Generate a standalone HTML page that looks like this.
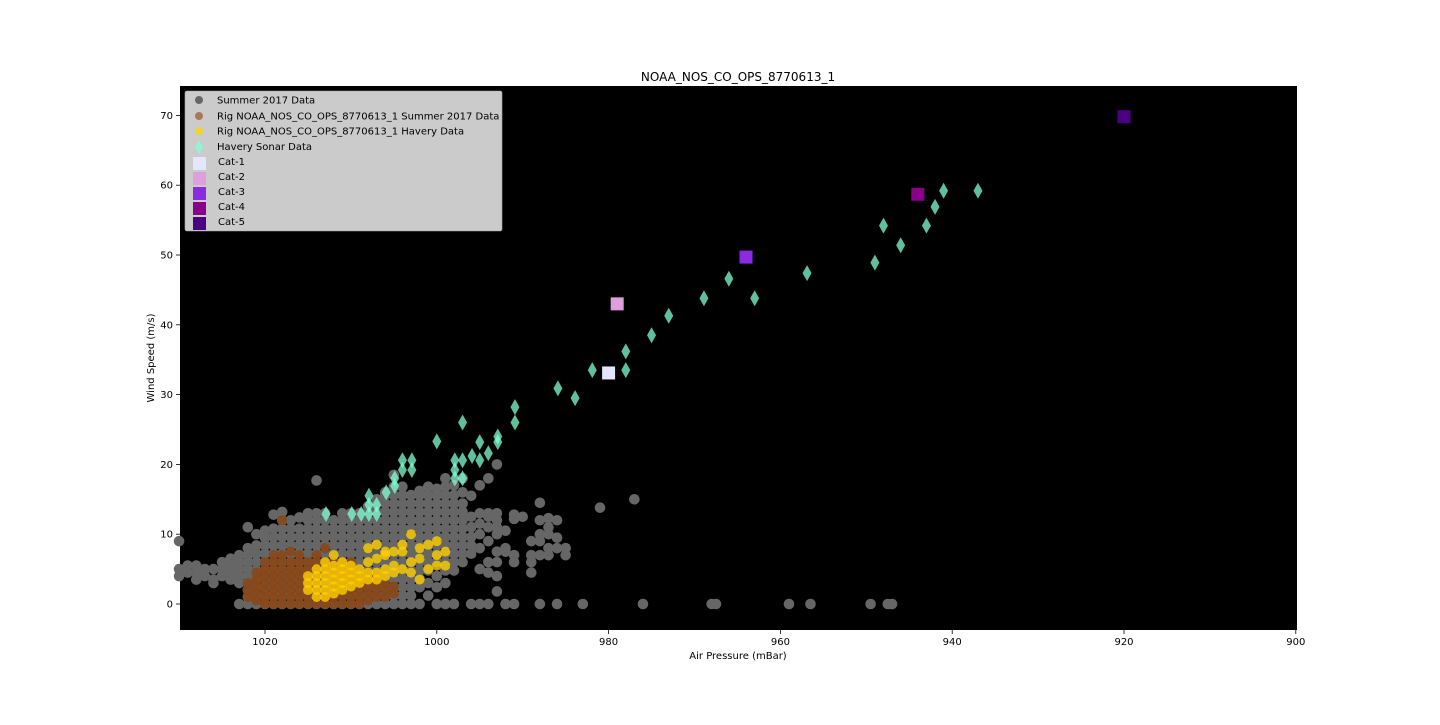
<!DOCTYPE html>
<html><head><meta charset="utf-8"><style>
body{margin:0;background:#fff;}
svg text{font-family:"DejaVu Sans","Liberation Sans",sans-serif;}
</style></head><body>
<svg id="chart" width="1440" height="720" xmlns="http://www.w3.org/2000/svg">
<rect x="0" y="0" width="1440" height="720" fill="#fff"/>
<text x="738" y="81" font-size="12" text-anchor="middle">NOAA_NOS_CO_OPS_8770613_1</text>
<rect x="180" y="86" width="1117" height="544" fill="#000"/>
<g id="marks"></g>
<g id="axes"></g>
<text x="738" y="659" font-size="10" text-anchor="middle">Air Pressure (mBar)</text>
<text transform="translate(154,358) rotate(-90)" font-size="10" text-anchor="middle">Wind Speed (m/s)</text>
<g>
<rect x="185" y="91" width="317" height="140" rx="2" fill="#cbcbcb" stroke="#aaa" stroke-width="0.6"/>
<circle cx="199" cy="100" r="4" fill="#666"/><text x="217" y="103.5" font-size="10">Summer 2017 Data</text>
<circle cx="199" cy="116" r="4" fill="#a5795a"/><text x="217" y="119.5" font-size="10">Rig NOAA_NOS_CO_OPS_8770613_1 Summer 2017 Data</text>
<circle cx="199" cy="131" r="4" fill="#f2d22e"/><text x="217" y="134.5" font-size="10">Rig NOAA_NOS_CO_OPS_8770613_1 Havery Data</text>
<polygon points="199,140 203,147 199,154 195,147" fill="#7fffd4" opacity="0.8"/><text x="217" y="150" font-size="10">Havery Sonar Data</text>
<rect x="193" y="157" width="13" height="13" fill="#e6e6fa"/><text x="218" y="165" font-size="10">Cat-1</text>
<rect x="193" y="172" width="13" height="13" fill="#dda0dd"/><text x="218" y="180" font-size="10">Cat-2</text>
<rect x="193" y="187" width="13" height="13" fill="#8a2be2"/><text x="218" y="195" font-size="10">Cat-3</text>
<rect x="193" y="202" width="13" height="13" fill="#8b008b"/><text x="218" y="210" font-size="10">Cat-4</text>
<rect x="193" y="217" width="13" height="13" fill="#4b0082"/><text x="218" y="225" font-size="10">Cat-5</text>
</g>
</svg>
<script>
const grayCols = [
[1030,4,5,9],[1029,4.5,5.5],[1028,3.5,4.5,5.5],[1027,4,5],[1026,3,3.5,5],[1025,4,5,6],[1024,3.5,4.5,5.5,6.5],
[1023,0,3,4,5,6,7],[1022,0,1,2,3,4,5,6,7,8,11],[1021,0,1.2,2.4,3.6,4.8,6,7.2,8.4,10],
[1020,0,1.2,2.4,3.6,4.8,6,7.2,8.4,9.5,10.5],[1019,0,1.2,2.4,3.6,4.8,6,7.2,8.4,9.6,10.8,12.8],
[1018,0,1.2,2.4,3.6,4.8,6,7.2,8.4,9.6,10.8,12,13.2],[1017,0,1.2,2.4,3.6,4.8,6,7.2,8.4,9.6,10.8,12],
[1016,0,1.2,2.4,3.6,4.8,6,7.2,8.4,9.6,10.8,12.4],[1015,0,1.2,2.4,3.6,4.8,6,7.2,8.4,9.6,10.8,12,13],
[1014,0,1.2,2.4,3.6,4.8,6,7.2,8.4,9.6,10.8,12,13,17.7],[1013,0,1.2,2.4,3.6,4.8,6,7.2,8.4,9.6,10.8,12,13],
[1012,0,1.2,2.4,3.6,4.8,6,7.2,8.4,9.6,10.8,12],[1011,0,1.2,2.4,3.6,4.8,6,7.2,8.4,9.6,10.8,12,13],
[1010,0,1.2,2.4,3.6,4.8,6,7.2,8.4,9.6,10.8,12,13],[1009,0,1.2,2.4,3.6,4.8,6,7.2,8.4,9.6,10.8,12,13],
[1008,0,1.2,2.4,3.6,4.8,6,7.2,8.4,9.6,10.8,12,13.2,14],[1007,0,1.2,2.4,3.6,4.8,6,7.2,8.4,9.6,10.8,12,13.2,14.4,15],
[1006,0,1.2,2.4,3.6,4.8,6,7.2,8.4,9.6,10.8,12,13.2,14.4,15.6,16],[1005,0,1.2,2.4,3.6,4.8,6,7.2,8.4,9.6,10.8,12,13.2,14.4,15.6,16.8,18.5],
[1004,0,1.2,2.4,3.6,4.8,6,7.2,8.4,9.6,10.8,12,13.2,14.4,15.6,16.8],[1003,0,1.2,2.4,3.6,4.8,6,7.2,8.4,9.6,10.8,12,13.2,14.4,15.6],
[1002,0,2.4,3.6,4.8,6,7.2,8.4,9.6,10.8,12,13.2,14.4,15.6,16.2],[1001,1.2,3,4.8,6,7.2,8.4,9.6,10.8,12,13.2,14.4,15.6,16.8],
[1000,0,2.4,4,6,7.2,8.4,9.6,10.8,12,13.2,14.4,15.6,16.5],[999,0,3,4.8,6,7.2,8.4,9.6,10.8,12,13.2,14.4,15.6,16.8,18],
[998,0,4.8,6,7.2,8.4,9.6,10.8,12,13.2,14.4,15.6,17],[997,6,7.2,8.4,9.6,10.8,12,13.2,14.4,16,18],
[996,0,7.2,8.4,9.6,11,12.5,15.5],[995,0,5,8,10,11.5,13,17],[994,0,4.5,6,9,11,12.5,13,18],
[993,1.8,4,6,7.5,10,11,12,13,20],[992,0,7.5,8,10.5],[991,0,6,7,12.2,12.8],[990,12.5],
[989,4.5,6,7,9],[988,0,7,9,10,12,14.5],[987,7,8,10,11,12.3],[986,0,8,9.5,12],[985,7,8],
[983,0],[981,13.8],[977,15],[976,0],[968,0],[967.5,0],[959,0],[956.5,0],[949.5,0],[947.5,0],[947,0]
];
const brownCols = [
[1022,1,2,3],[1021,0.5,1.5,2.5,3.5,4.5],[1020,0,1,2,3,4,5,6],[1019,0,1,2,3,4,5,6,7],
[1018,0,1,2,3,4,5,6,7,12],[1017,0,1,2,3,4,5,6,7.5],[1016,0,1,2,3,4,5,6,7],[1015,0,1,2,3,4,5,6],
[1014,0,1,2,3,4,5,6,7],[1013,0,1,2,3,4,5,6,8],[1012,0,1,2,3,4,5,6],[1011,0,1,2,3,4,5,6],
[1010,0,1,2,3,4,5,6],[1009,0,1,2,3,4,5],[1008,0.5,1.5,2.5,3.5,4.5],[1007,1,2,3,4],[1006,1,2,3],[1005,1.5,2.5]
];
const yellowCols = [
[1015,2,3,4],[1014,1,2,3,4,5],[1013,1,2,3,4,5,6],[1012,1.5,2.5,3.5,4.5,5.5,7],[1011,2,3,4,5,6],
[1010,2.5,3.5,4.5,5.5],[1009,3,4,5],[1008,3.5,4.5,6,8],[1007,3.5,4.5,6.5,8.5],[1006,4,5,7,7.5],
[1005,4.5,5.5,7.5],[1004,5,7.5,8.5],[1003,4.5,6,10],[1002,3.5,6.5,8],[1001,5,8.5],[1000,5.5,7,9],[999,5.5,7.5]
];
const sonarP = [1012.9,1009.9,1008.8,1007.9,1007,1007.9,1007,1007.9,1005.9,1004.9,1004.9,1004,1002.9,1004,1002.9,1000,997.9,997.9,997.9,997,997,997,995.9,995,995,994,992.9,992.9,990.9,990.9,985.9,983.9,981.9,978,978,975,973,968.9,966,963,956.9,949,948,946,943,942,941,937];
const sonarW = [12.9,12.9,12.9,12.9,12.9,14.2,14.2,15.5,16,18,16.9,20.6,20.6,19.2,19.2,23.3,20.6,19.2,18,26,20.6,18,21.2,23.2,20.6,21.6,24,23.2,28.2,26,30.9,29.5,33.5,36.2,33.5,38.5,41.3,43.8,46.6,43.8,47.4,48.9,54.2,51.4,54.2,56.9,59.2,59.2];
const catNames = ["Cat-1","Cat-2","Cat-3","Cat-4","Cat-5"];
const catP = [980,979,964,944,920];
const catW = [33.1,43,49.7,58.7,69.8];
const catColors = ["#e6e6fa","#dda0dd","#8a2be2","#8b008b","#4b0082"];
const xTicks = [1020,1000,980,960,940,920,900];
const yTicks = [0,10,20,30,40,50,60,70];

const X = p => 265 + (1020 - p) * 8.59;
const Y = w => 604 - w * 6.98;
const NS = "http://www.w3.org/2000/svg";
const marks = document.getElementById("marks");
const axes = document.getElementById("axes");
function mk(tag, attrs, parent){const e=document.createElementNS(NS,tag);for(const k in attrs)e.setAttribute(k,attrs[k]);parent.appendChild(e);return e;}

function drawCols(cols, fill, op, r, name){
  const g = mk("g",{},marks);
  
  
  cols.forEach(c=>{const p=c[0];for(let i=1;i<c.length;i++){
    const el=mk("circle",{cx:X(p),cy:Y(c[i]),r:r,fill:fill,"fill-opacity":op},g);
    
    
  }});
}
drawCols(grayCols,"#666",1,5.3,"summer-2017-series");
drawCols(brownCols,"#8b4513",0.85,5,"rig-summer-series");
drawCols(yellowCols,"#ffd000",0.8,5,"rig-havery-series");

const sg = mk("g",{},marks);


sonarP.forEach((p,i)=>{const x=X(p),y=Y(sonarW[i]);
  const el=mk("polygon",{points:`${x},${y-8} ${x+4.5},${y} ${x},${y+8} ${x-4.5},${y}`,fill:"#7fffd4","fill-opacity":0.75},sg);
  
  
});
catP.forEach((p,i)=>{
  const el=mk("rect",{x:X(p)-6.5,y:Y(catW[i])-6.5,width:13,height:13,fill:catColors[i]},marks);
  
  
});
xTicks.forEach(t=>{const x=X(t);
  mk("line",{x1:x,y1:630,x2:x,y2:634,stroke:"#000","stroke-width":0.8},axes);
  const tx=mk("text",{x:x,y:645,"font-size":10,"text-anchor":"middle"},axes);tx.textContent=t;
  
  
});
yTicks.forEach(t=>{const y=Y(t);
  mk("line",{x1:176,y1:y,x2:180,y2:y,stroke:"#000","stroke-width":0.8},axes);
  const tx=mk("text",{x:173,y:y+3.5,"font-size":10,"text-anchor":"end"},axes);tx.textContent=t;
  
  
});
</script>
</body></html>
